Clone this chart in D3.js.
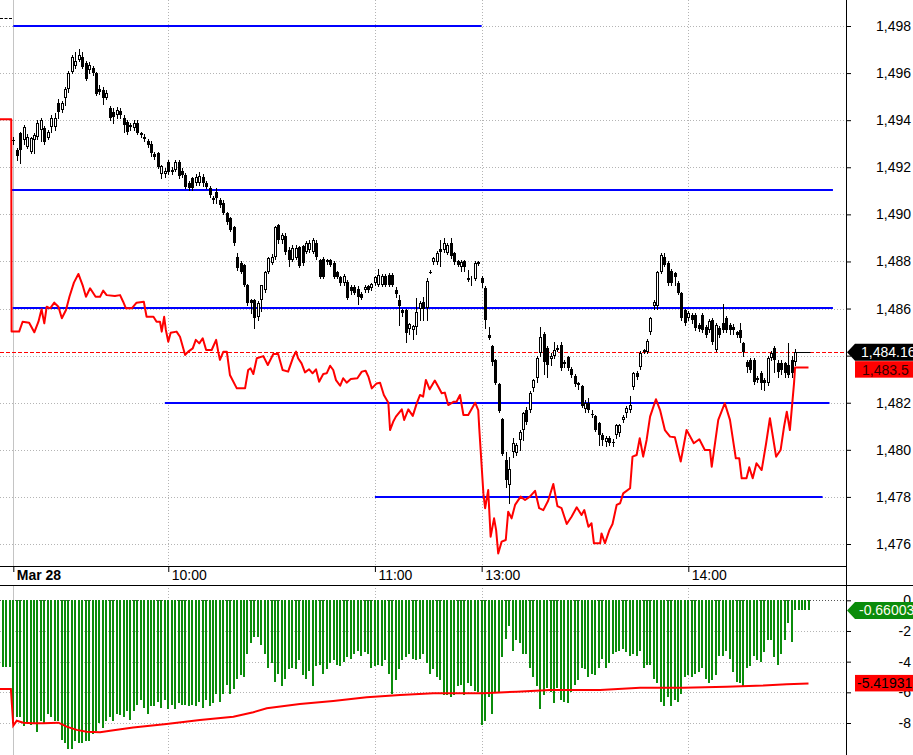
<!DOCTYPE html>
<html><head><meta charset="utf-8">
<script src="https://cdn.jsdelivr.net/npm/d3@7"></script>
<style>
html,body{margin:0;padding:0;background:#fff;}
svg{display:block;font-family:"Liberation Sans",Arial,sans-serif;}
</style></head><body>
<svg id="c" width="913" height="755"></svg>
<script>
// ---------------- DATA ----------------
const timeTicks = [0, 45, 105, 136, 196];
const timeLabels = ["Mar 28", "10:00", "11:00", "13:00", "14:00"];
const priceTicks = [1476,1478,1480,1482,1484,1486,1488,1490,1492,1494,1496,1498];
const indTicks = [0,-2,-4,-6,-8];

const candleOpen = [
1493.15,1492.73,1493.45,1493.16,1492.86,1492.65,1493.16,1493.29,1493.58,1493.67,
1493.24,1493.70,1493.70,1494.73,1494.43,1494.94,1495.33,1496.05,1496.30,1496.55,
1496.68,1496.43,1496.13,1496.20,1496.00,1495.33,1495.28,1494.94,1494.50,1494.35,
1494.20,1494.40,1494.10,1493.92,1493.80,1493.67,1493.90,1493.45,1493.30,1493.10,
1493.00,1492.55,1492.60,1491.70,1491.70,1492.22,1491.90,1491.90,1492.22,1491.85,
1491.67,1491.33,1491.55,1491.33,1491.33,1491.60,1491.33,1491.12,1490.70,1490.95,
1490.60,1490.50,1490.05,1489.85,1489.46,1488.19,1487.93,1487.85,1487.00,1486.36,
1486.36,1485.65,1486.36,1486.79,1487.55,1487.93,1488.19,1489.55,1488.91,1489.10,
1488.50,1488.06,1488.15,1488.60,1488.65,1488.40,1488.50,1488.40,1488.80,1488.06,
1488.10,1488.06,1488.06,1487.93,1487.55,1487.34,1487.08,1487.13,1486.90,1486.90,
1486.85,1486.60,1486.79,1486.95,1486.87,1487.08,1487.00,1487.00,1487.38,1487.42,
1487.42,1486.79,1486.36,1485.94,1485.94,1485.13,1485.09,1485.22,1485.98,1486.28,
1486.02,1487.55,1487.98,1487.98,1488.55,1488.49,1488.36,1488.78,1488.36,1488.00,
1487.77,1488.00,1487.30,1487.25,1487.25,1487.90,1487.30,1486.87,1484.87,1484.41,
1483.81,1482.80,1481.30,1479.57,1478.50,1479.90,1479.87,1480.42,1480.84,1481.69,
1481.69,1482.62,1483.05,1484.11,1484.92,1484.33,1483.85,1483.98,1484.24,1484.45,
1483.73,1483.94,1483.43,1483.13,1482.84,1482.71,1481.73,1481.99,1481.52,1481.44,
1481.14,1480.63,1480.33,1480.50,1480.33,1480.63,1480.70,1481.27,1481.56,1481.69,
1482.67,1483.26,1483.51,1484.16,1484.16,1485.00,1486.10,1486.10,1487.55,1488.19,
1487.93,1487.60,1487.50,1487.08,1486.66,1485.94,1485.60,1485.73,1485.73,1485.30,
1485.73,1485.22,1485.09,1485.51,1484.24,1485.17,1485.38,1485.60,1485.30,1485.20,
1485.00,1485.09,1484.54,1483.73,1483.81,1483.81,1482.97,1483.26,1482.97,1482.84,
1483.90,1484.33,1483.68,1483.68,1483.68,1483.60,1483.81,1483.73];
const candleHigh = [
1493.30,1492.80,1493.50,1493.80,1493.40,1493.30,1493.45,1494.00,1494.10,1493.75,
1493.60,1494.20,1494.30,1494.90,1494.80,1495.40,1496.10,1496.75,1496.90,1497.02,
1496.90,1496.50,1496.45,1496.30,1496.05,1495.50,1495.40,1495.30,1494.60,1494.50,
1494.55,1494.50,1494.20,1494.00,1493.90,1494.00,1494.00,1493.50,1493.40,1493.20,
1493.10,1492.65,1492.65,1492.10,1491.95,1492.30,1492.00,1492.30,1492.30,1491.95,
1491.75,1491.40,1491.60,1491.70,1491.80,1491.70,1491.40,1491.20,1490.80,1491.10,
1490.70,1490.60,1490.10,1489.90,1489.50,1488.35,1488.00,1487.90,1487.05,1486.40,
1486.40,1486.30,1487.00,1487.60,1488.20,1488.30,1489.50,1489.60,1489.20,1489.20,
1488.60,1488.70,1488.70,1488.65,1488.70,1488.85,1488.90,1489.00,1488.90,1488.10,
1488.20,1488.10,1488.10,1488.00,1487.60,1487.40,1487.45,1487.20,1487.00,1487.00,
1486.95,1486.70,1487.00,1487.00,1487.10,1487.40,1487.70,1487.45,1487.45,1487.50,
1487.50,1486.90,1486.58,1486.00,1486.00,1485.40,1485.30,1486.45,1486.30,1486.50,
1487.30,1487.65,1488.20,1488.45,1488.90,1489.00,1488.80,1489.00,1488.40,1488.05,
1488.05,1488.05,1487.65,1487.40,1488.00,1488.00,1487.40,1486.95,1485.20,1484.45,
1483.85,1482.85,1481.35,1479.90,1479.70,1480.50,1480.30,1480.85,1481.60,1481.80,
1482.50,1483.00,1484.00,1485.20,1485.00,1484.40,1484.10,1484.60,1484.45,1484.60,
1483.80,1484.00,1483.50,1483.20,1482.90,1482.75,1482.10,1482.20,1481.70,1481.50,
1481.20,1480.70,1480.60,1480.60,1480.45,1481.10,1481.10,1481.50,1481.85,1482.30,
1483.30,1483.35,1484.20,1484.30,1484.70,1485.65,1486.35,1487.60,1488.35,1488.36,
1488.00,1487.70,1487.55,1487.15,1486.70,1486.00,1485.90,1485.80,1485.80,1485.40,
1485.80,1485.30,1485.55,1485.60,1485.40,1485.25,1486.20,1485.70,1485.40,1485.35,
1485.05,1485.40,1484.60,1483.80,1483.90,1483.90,1483.15,1483.35,1483.05,1484.00,
1484.20,1484.40,1483.80,1483.80,1483.75,1484.54,1484.00,1484.30];
const candleLow = [
1493.00,1492.30,1492.20,1493.00,1492.80,1492.60,1492.60,1493.20,1493.10,1493.00,
1493.20,1493.50,1493.60,1494.10,1494.35,1494.65,1495.20,1496.00,1496.20,1496.50,
1496.20,1495.70,1496.00,1495.90,1495.05,1495.10,1494.70,1494.90,1494.00,1493.90,
1494.10,1494.10,1493.50,1493.40,1493.60,1493.60,1493.40,1493.30,1493.10,1492.85,
1492.50,1492.35,1491.95,1491.55,1491.60,1491.70,1491.70,1491.85,1491.55,1491.60,
1491.10,1491.05,1491.05,1491.25,1491.25,1491.20,1491.10,1490.75,1490.50,1490.50,
1490.30,1490.00,1489.60,1489.30,1488.70,1487.65,1487.50,1486.95,1486.15,1485.80,
1485.17,1485.50,1485.90,1486.70,1487.50,1487.90,1488.10,1488.80,1488.80,1488.30,
1487.80,1488.00,1488.10,1487.75,1487.85,1488.35,1488.40,1488.35,1488.10,1487.30,
1487.30,1487.90,1487.80,1487.30,1487.30,1487.00,1487.00,1486.40,1486.60,1486.60,
1486.20,1486.40,1486.70,1486.70,1486.80,1487.00,1486.95,1486.95,1486.95,1486.95,
1486.95,1486.50,1485.30,1485.70,1484.60,1484.90,1484.70,1484.90,1485.50,1485.50,
1485.50,1487.50,1487.90,1487.90,1487.80,1488.40,1488.30,1488.15,1487.90,1487.80,
1487.60,1487.60,1487.15,1487.00,1487.20,1487.85,1486.90,1485.17,1484.70,1483.60,
1482.80,1481.60,1479.80,1478.40,1477.75,1479.70,1479.80,1480.00,1480.40,1481.10,
1481.60,1482.50,1482.90,1484.00,1483.20,1483.10,1483.60,1483.90,1484.20,1483.40,
1483.50,1483.40,1483.10,1482.70,1482.60,1481.80,1481.60,1481.60,1481.40,1480.80,
1480.20,1480.20,1480.15,1480.20,1480.15,1480.50,1480.60,1481.20,1481.40,1481.60,
1482.60,1483.00,1483.45,1484.10,1484.10,1484.90,1486.00,1486.00,1487.50,1487.80,
1487.00,1487.00,1487.00,1486.60,1485.50,1485.30,1485.50,1485.40,1485.10,1485.05,
1485.00,1484.80,1485.00,1484.50,1484.20,1484.80,1485.00,1485.00,1484.90,1484.90,
1484.80,1484.60,1484.00,1483.30,1483.30,1482.80,1482.90,1482.60,1482.55,1482.75,
1483.80,1483.30,1483.10,1483.20,1483.10,1483.10,1483.10,1483.60];
const candleClose = [
1493.15,1492.50,1492.73,1493.70,1493.29,1493.24,1493.37,1493.88,1494.01,1493.07,
1493.50,1494.10,1494.10,1494.35,1494.73,1495.33,1496.00,1496.68,1496.50,1496.77,
1496.26,1495.75,1496.35,1496.00,1495.11,1495.20,1494.94,1495.15,1494.10,1494.13,
1494.45,1494.20,1493.80,1493.50,1493.70,1493.88,1493.45,1493.37,1493.20,1492.95,
1492.60,1492.43,1492.00,1492.05,1491.85,1491.80,1491.80,1492.22,1491.63,1491.67,
1491.16,1491.12,1491.12,1491.60,1491.63,1491.33,1491.16,1490.82,1490.60,1490.70,
1490.40,1490.05,1489.68,1489.34,1488.78,1487.72,1487.55,1487.00,1486.23,1486.23,
1485.60,1486.23,1486.98,1487.55,1488.15,1488.19,1489.46,1488.91,1489.12,1488.40,
1488.06,1488.57,1488.57,1487.80,1487.93,1488.78,1488.80,1488.90,1488.19,1487.34,
1487.34,1487.97,1487.85,1487.34,1487.34,1487.08,1487.38,1486.45,1486.75,1486.66,
1486.50,1486.45,1486.90,1486.79,1487.04,1487.34,1487.42,1487.38,1487.00,1487.00,
1487.00,1486.62,1486.10,1485.80,1484.96,1485.34,1485.26,1485.85,1486.23,1485.98,
1487.17,1487.55,1488.15,1488.36,1488.40,1488.78,1488.70,1488.23,1487.98,1487.85,
1487.98,1487.77,1487.20,1487.30,1487.93,1487.98,1487.08,1485.51,1484.75,1483.73,
1482.84,1481.65,1479.82,1478.72,1479.18,1480.30,1480.20,1480.75,1481.56,1481.18,
1482.41,1482.96,1483.90,1484.79,1483.73,1483.60,1483.98,1484.24,1484.33,1483.47,
1483.64,1483.47,1483.18,1482.79,1482.75,1481.86,1481.99,1481.69,1481.52,1480.84,
1480.63,1480.42,1480.50,1480.29,1480.33,1481.05,1481.05,1481.40,1481.78,1481.90,
1483.26,1483.09,1484.11,1484.24,1484.62,1485.60,1486.28,1487.55,1488.27,1487.85,
1487.08,1487.08,1487.34,1486.66,1485.60,1485.39,1485.81,1485.51,1485.17,1485.13,
1485.09,1484.88,1485.47,1484.58,1485.30,1484.88,1485.09,1485.09,1485.09,1485.09,
1484.88,1484.75,1484.16,1483.52,1483.39,1482.88,1483.05,1482.84,1482.84,1483.90,
1484.11,1483.81,1483.30,1483.39,1483.26,1483.18,1483.26,1484.16];

// red price line (bar position, value)
const redT = [-3.9,-0.6,-0.5,1.7,2.7,4.6,6.1,7.3,8.2,9.0,
9.7,10.7,11.9,13.1,14.1,15.3,16.3,17.6,18.9,20.2,
21.1,22.3,23.9,25.2,26.1,27.1,29.5,31.0,31.9,32.7,
34.4,35.8,37.9,38.7,40.7,41.6,42.6,43.1,43.8,44.3,
45.0,45.7,47.4,48.4,49.9,50.8,52.1,53.0,54.0,55.0,
56.0,57.6,58.9,59.5,60.0,61.0,62.0,62.9,64.9,67.3,
68.2,68.9,69.7,70.7,72.6,73.9,75.5,76.9,78.2,79.8,
81.3,82.1,82.7,83.7,84.7,85.9,86.9,87.9,88.8,90.0,
91.0,92.0,92.9,93.7,94.9,95.8,96.8,98.0,99.9,101.2,
102.3,103.1,104.1,105.5,106.5,107.6,108.9,109.4,110.3,111.1,
112.8,113.5,114.7,116.0,117.1,118.1,119.0,119.8,120.9,122.4,
123.4,124.4,125.3,126.3,127.8,128.7,129.7,130.7,132.1,134.1,
135.0,135.3,135.7,136.5,137.0,137.9,138.6,139.6,140.2,140.8,
141.8,143.0,143.7,144.7,145.7,147.3,148.6,150.0,151.5,152.7,
153.9,155.3,156.8,158.0,159.2,160.7,162.1,163.6,165.0,165.8,
167.0,167.9,168.6,170.4,170.8,171.8,173.1,174.0,175.2,176.2,
177.1,179.1,179.8,181.0,181.9,182.9,183.9,184.9,186.6,187.8,
189.2,190.7,192.1,193.8,195.5,197.6,199.2,200.8,202.3,202.8,
204.7,206.6,208.1,209.8,210.8,211.5,212.9,213.7,214.7,215.8,
217.3,218.6,219.7,221.5,222.8,223.8,224.6,225.5,226.7,227.0,
230.9];
const redP = [1494.04,1494.04,1485.02,1485.02,1485.44,1485.40,1484.99,1485.44,1485.97,1485.37,
1486.08,1486.01,1486.25,1486.08,1485.59,1485.94,1486.50,1487.10,1487.47,1486.96,
1486.50,1486.86,1486.50,1486.50,1486.76,1486.57,1486.53,1486.57,1486.29,1486.01,
1486.01,1486.25,1486.29,1485.65,1485.65,1485.44,1485.44,1485.02,1485.65,1485.09,
1484.59,1484.97,1485.02,1484.80,1484.03,1484.17,1484.31,1484.67,1484.52,1484.74,
1484.24,1484.24,1484.67,1484.17,1483.82,1484.17,1484.17,1483.18,1482.61,1482.61,
1483.39,1483.46,1483.22,1483.89,1483.98,1483.60,1484.07,1484.07,1483.39,1483.32,
1483.95,1484.17,1483.89,1483.67,1483.29,1483.42,1483.25,1483.42,1482.89,1483.22,
1483.25,1483.57,1483.39,1482.96,1482.72,1483.04,1482.85,1483.01,1483.04,1483.32,
1483.36,1483.11,1482.61,1482.82,1482.85,1482.33,1482.00,1480.84,1481.19,1481.41,
1481.72,1481.27,1481.72,1481.44,1481.95,1482.33,1482.26,1482.97,1482.57,1482.94,
1482.68,1482.40,1482.43,1481.90,1482.04,1482.04,1482.33,1481.48,1481.48,1482.00,
1481.69,1480.91,1479.99,1478.15,1477.52,1478.29,1476.31,1477.09,1476.59,1475.60,
1476.10,1476.17,1477.37,1477.09,1477.66,1478.01,1477.87,1478.01,1478.26,1477.52,
1477.44,1477.84,1478.55,1477.61,1477.52,1476.85,1477.16,1477.56,1477.23,1477.44,
1476.73,1476.88,1476.03,1476.03,1476.45,1476.03,1476.59,1476.85,1477.66,1477.73,
1478.15,1478.37,1479.71,1479.78,1480.49,1479.71,1480.42,1481.41,1482.15,1481.69,
1480.84,1480.56,1480.53,1479.50,1480.84,1480.28,1480.45,1479.99,1479.99,1479.28,
1481.27,1481.98,1481.27,1479.64,1479.64,1478.79,1478.79,1479.26,1478.79,1479.43,
1479.14,1480.28,1481.34,1479.71,1479.99,1480.98,1481.62,1480.84,1482.82,1483.50,
1483.50];

// horizontal blue levels
const levelValues = [1498.0, 1491.04, 1486.04, 1482.0, 1478.0];
const levelStart  = [0, -0.7, -0.2, 44, 105];
const levelEnd    = [136, 238, 238, 237, 235];

// indicator histogram (first bar index -3)
const histFirst = -3;
const histValues = [
-4.33,-4.33,-4.33,
-8.0,-7.6,-7.6,-8.2,-8.0,-8.1,-8.0,-8.6,-7.9,-8.0,
-7.4,-7.6,-7.9,-7.9,-9.1,-9.3,-9.7,-9.7,-9.2,-9.3,
-9.3,-9.2,-9.2,-8.7,-8.5,-8.0,-8.3,-7.9,-7.6,-7.9,
-7.4,-7.5,-7.6,-7.2,-7.8,-7.2,-6.8,-6.5,-7.0,-7.4,
-6.9,-6.9,-6.6,-7.0,-6.5,-7.1,-6.8,-7.1,-6.7,-6.8,
-6.8,-6.9,-6.8,-6.9,-6.6,-7.0,-6.5,-6.9,-6.7,-6.1,
-6.6,-6.1,-5.5,-6.1,-5.8,-5.1,-4.9,-5.0,-3.5,-2.8,
-2.4,-2.4,-2.9,-3.5,-4.4,-4.1,-5.3,-4.8,-5.6,-5.1,
-4.5,-4.4,-4.5,-3.9,-4.9,-5.1,-4.6,-5.6,-4.3,-4.2,
-4.8,-4.5,-4.1,-3.9,-4.2,-4.3,-4.0,-3.7,-3.8,-3.5,
-3.3,-3.6,-3.4,-3.5,-4.4,-4.3,-4.2,-4.3,-3.9,-4.8,
-6.1,-5.2,-4.5,-3.9,-3.7,-3.5,-3.8,-3.9,-3.8,-3.5,
-4.1,-4.8,-4.5,-5.0,-5.2,-6.2,-6.2,-6.3,-6.2,-5.6,
-5.5,-6.2,-5.4,-5.6,-5.9,-6.0,-8.1,-7.9,-6.3,-7.4,
-6.0,-6.0,-3.7,-2.5,-1.7,-3.3,-2.6,-2.8,-3.5,-3.5,
-4.4,-5.0,-5.6,-7.1,-6.2,-5.7,-6.0,-6.7,-5.7,-6.5,
-6.6,-6.7,-6.0,-5.5,-5.2,-4.4,-4.5,-5.0,-4.8,-4.9,
-4.4,-3.8,-4.4,-4.1,-3.5,-3.4,-3.3,-3.2,-3.4,-3.6,
-3.5,-3.6,-3.3,-4.4,-4.2,-4.2,-5.1,-5.4,-6.6,-6.9,
-6.3,-6.9,-6.5,-6.6,-6.1,-5.0,-4.9,-5.0,-4.8,-4.7,
-4.4,-5.1,-5.4,-5.2,-4.9,-3.6,-3.6,-3.3,-3.8,-4.7,
-5.3,-5.4,-5.6,-4.4,-4.3,-3.6,-3.9,-4.0,-3.4,-2.6,
-2.6,-3.7,-4.2,-3.5,-2.6,-1.5,-2.7,-0.66,-0.66,-0.66,
-0.66,-0.66];

// indicator red line (bar position, value)
const indT = [-3.9,-0.7,0,1,2.9,5.8,8.7,13.1,15.5,18.4,21.3,25.2,28.1,34.8,44.5,54.2,63.9,69.7,73.6,83.2,92.9,102.6,112.3,122,136.5,146.2,155.8,170.4,182,194.5,207.1,217.8,224.6,230.9];
const indV = [-5.78,-5.78,-8.17,-7.85,-7.98,-8.02,-8.02,-7.98,-8.24,-8.45,-8.57,-8.61,-8.50,-8.30,-8.07,-7.80,-7.59,-7.30,-7.04,-6.76,-6.56,-6.32,-6.17,-6.06,-6.06,-5.96,-5.85,-5.85,-5.70,-5.70,-5.63,-5.56,-5.48,-5.42];

const lastPrice = 1484.16, lastRed = 1483.5, lastHist = -0.66003, lastIndRed = -5.41931;
const lastPriceText = "1,484.16", lastRedText = "1,483.5", lastHistText = "-0.66003", lastIndRedText = "-5.41931";

// ---------------- DRAW ----------------
const W = 913, H = 755, AX = 846;
const MAIN_BOT = 566, BAND_BOT = 585;
const FONT = '"Liberation Sans", Arial, sans-serif';
const GREEN = "#0b8c0b", RED = "#ff0000", BLUE = "#0000ff", GRID = "#b4b4b4";

const svg = d3.select("#c");
svg.append("rect").attr("width", W).attr("height", H).attr("fill", "#fff");

const x = d3.scaleLinear().domain([0, 196]).range([13.3, 688.3]);
const y = d3.scaleLinear().domain([1476, 1498]).range([544, 26]);
const yi = d3.scaleLinear().domain([-8, 0]).range([723, 600.3]);
const px = v => Math.round(x(v));

const defs = svg.append("defs");
defs.append("clipPath").attr("id", "cm").append("rect").attr("x", 0).attr("y", 0).attr("width", AX).attr("height", MAIN_BOT);
defs.append("clipPath").attr("id", "ci").append("rect").attr("x", 0).attr("y", BAND_BOT).attr("width", AX).attr("height", H - BAND_BOT);

const gm = svg.append("g").attr("clip-path", "url(#cm)");
const gi = svg.append("g").attr("clip-path", "url(#ci)");

// grid main
priceTicks.forEach(v => {
  const yy = Math.round(y(v)) + 0.5;
  gm.append("line").attr("x1", 0).attr("x2", AX).attr("y1", yy).attr("y2", yy)
    .attr("stroke", GRID).attr("stroke-dasharray", "1,2");
});
indTicks.forEach(v => {
  const yy = Math.round(yi(v)) + 0.5;
  gi.append("line").attr("x1", 0).attr("x2", AX).attr("y1", yy).attr("y2", yy)
    .attr("stroke", v === 0 ? "#555" : GRID).attr("stroke-dasharray", "1,2");
});
timeTicks.forEach((t, k) => {
  const xx = px(t) + 0.5;
  [[gm, 0, MAIN_BOT], [gi, BAND_BOT, H]].forEach(([g, a, b]) => {
    g.append("line").attr("x1", xx).attr("x2", xx).attr("y1", a).attr("y2", b)
      .attr("stroke", k === 0 ? "#c4c4c4" : GRID)
      .attr("stroke-dasharray", k === 0 ? null : "1,2");
  });
});

// top-left small dash
svg.append("line").attr("x1", 0).attr("x2", 12).attr("y1", 18.5).attr("y2", 18.5)
  .attr("stroke", "#000").attr("stroke-dasharray", "3,1.5");

// last price dashed line
gm.append("line").attr("x1", 0).attr("x2", AX)
  .attr("y1", Math.round(y(lastPrice)) + 0.5).attr("y2", Math.round(y(lastPrice)) + 0.5)
  .attr("stroke", RED).attr("stroke-dasharray", "4,2");

// blue levels
levelValues.forEach((v, k) => {
  const yy = Math.round(y(v));
  gm.append("line").attr("x1", x(levelStart[k])).attr("x2", x(levelEnd[k]))
    .attr("y1", yy).attr("y2", yy).attr("stroke", BLUE).attr("stroke-width", 2);
});

// candles
const candles = candleOpen.map((o, i) => ({i, o, h: candleHigh[i], l: candleLow[i], c: candleClose[i]}));
const gc = gm.append("g").attr("shape-rendering", "crispEdges");
candles.forEach(d => {
  const cx = px(d.i);
  gc.append("line").attr("x1", cx + 0.5).attr("x2", cx + 0.5)
    .attr("y1", Math.round(y(d.h))).attr("y2", Math.round(y(d.l)) + 1)
    .attr("stroke", "#000");
  const yo = Math.round(y(d.o)), yc = Math.round(y(d.c));
  if (Math.abs(d.o - d.c) < 0.005) {
    gc.append("rect").attr("x", cx - 1).attr("y", yo).attr("width", 3).attr("height", 1).attr("fill", "#000");
  } else if (d.c < d.o) {
    gc.append("rect").attr("x", cx - 1).attr("y", yo).attr("width", 3)
      .attr("height", Math.max(1, yc - yo)).attr("fill", "#000");
  } else {
    gc.append("rect").attr("x", cx - 0.5).attr("y", yc + 0.5).attr("width", 2)
      .attr("height", Math.max(0, yo - yc - 1)).attr("fill", "#fff").attr("stroke", "#000");
  }
});
// last close projection line
gm.append("line").attr("x1", x(candles.length - 1)).attr("x2", x(231.5))
  .attr("y1", Math.round(y(lastPrice)) + 0.5).attr("y2", Math.round(y(lastPrice)) + 0.5)
  .attr("stroke", "#000");

// red line
const redPts = redT.map((t, k) => [t, redP[k]]);
gm.append("path").datum(redPts)
  .attr("d", d3.line().x(d => x(d[0])).y(d => y(d[1])))
  .attr("fill", "none").attr("stroke", RED).attr("stroke-width", 2).attr("stroke-linejoin", "round");

// histogram
const gh = gi.append("g").attr("shape-rendering", "crispEdges");
histValues.forEach((v, k) => {
  const i = histFirst + k;
  const y0 = Math.round(yi(0)), y1 = Math.round(yi(v));
  gh.append("rect").attr("x", px(i) - 1).attr("y", y0).attr("width", 2)
    .attr("height", y1 - y0).attr("fill", GREEN);
});
const indPts = indT.map((t, k) => [t, indV[k]]);
gi.append("path").datum(indPts)
  .attr("d", d3.line().x(d => x(d[0])).y(d => yi(d[1])))
  .attr("fill", "none").attr("stroke", RED).attr("stroke-width", 2);

// frame lines
svg.append("line").attr("x1", 0).attr("x2", AX + 1).attr("y1", MAIN_BOT + 0.5).attr("y2", MAIN_BOT + 0.5).attr("stroke", "#000");
svg.append("line").attr("x1", 0).attr("x2", W).attr("y1", BAND_BOT + 0.5).attr("y2", BAND_BOT + 0.5).attr("stroke", "#000");
svg.append("line").attr("x1", AX + 0.5).attr("x2", AX + 0.5).attr("y1", 0).attr("y2", H).attr("stroke", "#000");

// axes
function styleAxis(g) {
  g.attr("font-family", FONT).attr("font-size", 14);
  g.select(".domain").remove();
  g.selectAll(".tick line").attr("stroke", "#000");
  g.selectAll(".tick text").attr("fill", "#000");
}
// the label at the last-price level is fully covered by the price boxes in the reference
const ya = svg.append("g").attr("transform", `translate(${AX},0)`)
  .call(d3.axisRight(y).tickValues(priceTicks)
    .tickFormat(d => Math.abs(d - lastPrice) < 1 ? "" : d3.format(",")(d)).tickSize(5));
styleAxis(ya);
ya.selectAll(".tick text").attr("text-anchor", "end").attr("x", 911 - AX);

const yia = svg.append("g").attr("transform", `translate(${AX},0)`)
  .call(d3.axisRight(yi).tickValues(indTicks).tickFormat(d => String(d)).tickSize(5));
styleAxis(yia);
yia.selectAll(".tick text").attr("text-anchor", "end").attr("x", 911 - AX);

const xa = svg.append("g").attr("transform", `translate(0,${MAIN_BOT})`)
  .call(d3.axisBottom(x).tickValues(timeTicks).tickFormat((d, k) => timeLabels[k]).tickSize(6));
styleAxis(xa);
xa.selectAll(".tick text").attr("text-anchor", "start").attr("x", 3).attr("y", 13.5).attr("dy", 0)
  .attr("font-weight", (d, k) => k === 0 ? "bold" : null);

// value labels
function arrowBox(cy, fill, text, textFill, tx) {
  const t = cy - 8.5, b = cy + 8.5;
  svg.append("path").attr("d", `M${AX + 1},${cy}L${AX + 9},${t}L${W},${t}L${W},${b}L${AX + 9},${b}Z`).attr("fill", fill);
  svg.append("text").attr("x", tx).attr("y", cy + 5).attr("font-family", FONT).attr("font-size", 14)
    .attr("fill", textFill).text(text);
}
function plainBox(top, fill, text, textFill, tx) {
  svg.append("rect").attr("x", AX + 9).attr("y", top).attr("width", W - AX - 9).attr("height", 16.5).attr("fill", fill);
  svg.append("text").attr("x", tx).attr("y", top + 13.5).attr("font-family", FONT).attr("font-size", 14)
    .attr("fill", textFill).text(text);
}
const cyP = y(lastPrice) + 0.5;
arrowBox(cyP, "#000", lastPriceText, "#fff", 861);
plainBox(Math.max(y(lastRed) - 8, cyP + 8.8), RED, lastRedText, "#300", 862);
arrowBox(yi(lastHist), GREEN, lastHistText, "#fffff0", 859);
plainBox(yi(lastIndRed) - 8.5, RED, lastIndRedText, "#000", 857);
</script>
</body></html>
